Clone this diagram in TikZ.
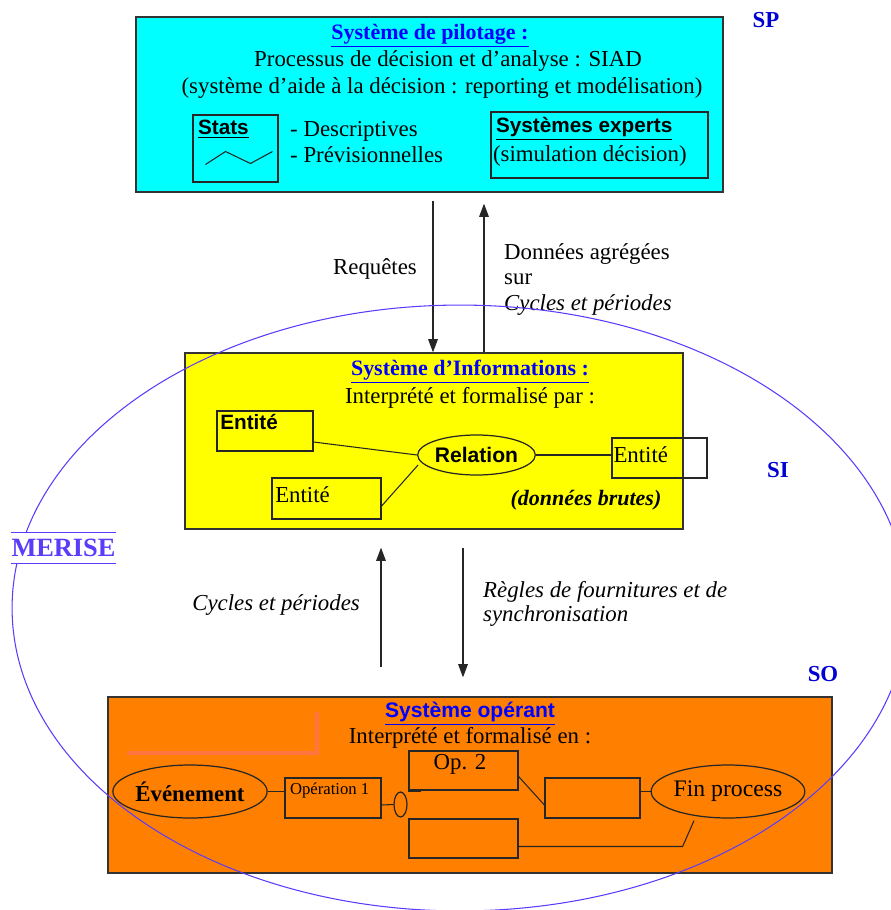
\documentclass[tikz,border=0pt]{standalone}
\usepackage{fontspec}
\setmainfont{Liberation Serif}
\setsansfont{Liberation Sans}
\usetikzlibrary{arrows.meta, positioning, shapes.geometric}

\definecolor{spcyan}{RGB}{0,255,255}
\definecolor{siyellow}{RGB}{255,255,0}
\definecolor{soorange}{RGB}{255,128,0}
\definecolor{salmonline}{RGB}{255,118,64}
\definecolor{meriseblue}{RGB}{90,60,250}
\definecolor{titleblue}{RGB}{0,0,255}
\definecolor{labelblue}{RGB}{0,0,210}

\begin{document}
\begin{tikzpicture}[x=0.02cm, y=-0.02cm, >={Triangle[length=7.5pt,width=5.5pt]},
	every node/.style={font=\fontsize{13}{15.3}\selectfont},
	sysbox/.style={draw=black!80, line width=0.8pt, inner sep=0pt},
	ent/.style={draw=black!85, line width=0.7pt, inner sep=0pt},
	ell/.style={ellipse, draw=black!85, line width=0.7pt, inner sep=0pt},
	title/.style={text=titleblue, font=\fontsize{12.5}{15}\selectfont\bfseries},
	sanstitle/.style={text=titleblue, font=\sffamily\bfseries\fontsize{12}{14}\selectfont},
	sansbold/.style={font=\sffamily\bfseries\fontsize{11.8}{14}\selectfont},
	syslabel/.style={text=labelblue, font=\fontsize{13}{15}\selectfont\bfseries},
	flow/.style={->, line width=0.6pt, black!85},
	link/.style={line width=0.6pt, black!85}]

	\useasboundingbox (0,0) rectangle (891,910);

	% pilotage
	\node[sysbox, fill=spcyan, minimum width=11.74cm, minimum height=3.5cm] (sp) at (429.5,104.5) {};
	\node[title] (sptitle) at (430,36) {\underline{Système de pilotage :}};
	\node (spline1) at (448,61) {Processus de décision et d'analyse : SIAD};
	\node (spline2) at (442,88) {(système d'aide à la décision : reporting et modélisation)};
	\node[ent, minimum width=1.7cm, minimum height=1.34cm] (stats) at (235.5,148.5) {};
	\node[sansbold, anchor=north west, inner sep=3pt] (statstitle) at (stats.north west) {\underline{Stats}};
	\draw[link] ([shift={(-30,16)}]stats.center) -- ++(20,-13) -- ++(25,12) -- ++(22,-12);
	\node[anchor=west, align=left] (statslist) at (284,142) {- Descriptives\\- Prévisionnelles};
	\node[ent, minimum width=4.34cm, minimum height=1.32cm] (experts) at (599.5,145) {};
	\node[sansbold, anchor=north west, inner sep=3pt] (expertstitle) at (experts.north west) {\underline{Systèmes experts}};
	\node[anchor=west, inner sep=1pt] (expertstext) at (491,156) {(simulation décision)};
	\node[syslabel] (splabel) at (766,20) {SP};

	% informations
	\node[sysbox, fill=siyellow, minimum width=9.96cm, minimum height=3.52cm] (si) at (434,441) {};
	\node[title] (sititle) at (470,372) {\underline{Système d'Informations :}};
	\node (siline) at (470,398) {Interprété et formalisé par :};
	\node[ent, minimum width=1.92cm, minimum height=0.8cm] (ent1) at (265,431) {};
	\node[sansbold, anchor=north west, inner sep=2pt] (ent1text) at (ent1.north west) {Entité};
	\node[ent, minimum width=2.18cm, minimum height=0.82cm] (ent2) at (326.5,498.5) {};
	\node[anchor=west, inner sep=2pt] (ent2text) at ([yshift=2pt]ent2.west) {Entité};
	\node[ell, minimum width=2.14cm, minimum height=0.8cm, font=\sffamily\bfseries\fontsize{12}{14}\selectfont] (rel) at (476.5,455) {Relation};
	\node[ent, minimum width=1.9cm, minimum height=0.8cm] (ent3) at (659.5,458) {};
	\node[anchor=west, inner sep=1pt] (ent3text) at ([yshift=2pt]ent3.west) {Entité};
	\draw[link] ([shift={(0,11)}]ent1.east) -- (rel.west);
	\draw[link] ([shift={(0,7.5)}]ent2.east) -- ([shift={(1,10)}]rel.west);
	\draw[link] (rel.east) -- (ent3.west |- rel.east);
	\node[font=\bfseries\itshape\fontsize{12.5}{15}\selectfont] (brutes) at (586,500) {(données brutes)};
	\node[syslabel] (silabel) at (778,470) {SI};

	% flux pilotage / informations
	\draw[flow] ([shift={(3.5,8)}]sp.south) -- ([shift={(3.5,0)}]sp.south |- si.north);
	\draw[flow] ([shift={(54.5,0)}]sp.south |- si.north) -- ([shift={(54.5,11)}]sp.south);
	\node (requetes) at (375,269) {Requêtes};
	\node[anchor=north west, align=left, font=\fontsize{13}{14.5}\selectfont] (agregees) at (498,237) {Données agrégées\\sur\\\textit{Cycles et périodes}};

	% operant
	\node[sysbox, fill=soorange, minimum width=14.48cm, minimum height=3.52cm] (so) at (470,785) {};
	\draw[salmonline, line width=2.3pt] (127,753) -- (317,753) -- (317,712);
	\node[sanstitle] (sotitle) at (470,714) {\underline{Système opérant}};
	\node (soline) at (470,738) {Interprété et formalisé en :};
	\node[ell, minimum width=2.68cm, minimum height=1.06cm, font=\bfseries\fontsize{13}{15}\selectfont] (evt) at (190,791.5) {Événement};
	\node[ent, minimum width=1.92cm, minimum height=0.8cm] (op1) at (333,798) {};
	\node[anchor=north west, inner sep=3pt, font=\fontsize{9.5}{11}\selectfont] (op1text) at (op1.north west) {Opération 1};
	\node[ell, minimum width=0.26cm, minimum height=0.5cm] (junc) at (400.5,804.5) {};
	\node[ent, minimum width=2.18cm, minimum height=0.78cm] (op2) at (463.5,770.5) {};
	\node[anchor=north, inner sep=2pt] (op2text) at ([xshift=-2pt]op2.north) {Op. 2};
	\node[ent, minimum width=1.9cm, minimum height=0.8cm] (op3) at (592.5,798) {};
	\node[ent, minimum width=2.18cm, minimum height=0.78cm] (op4) at (463.5,838.5) {};
	\node[ell, minimum width=3cm, minimum height=1.06cm, font=\fontsize{13.5}{15}\selectfont] (fin) at (728,791.5) {Fin process};
	\draw[link] (evt.east) -- (op1.west |- evt.east);
	\draw[link] ([shift={(0,7)}]op1.east) -- (junc.west);
	\draw[line width=1.2pt, black!85] (op2.south west) -- ++(13,0);
	\draw[link] ([shift={(0,6)}]op2.east) -- ([shift={(0,7)}]op3.west);
	\draw[link] (fin.west) -- (fin.west -| op3.east);
	\draw[link] ([shift={(0,8)}]op4.east) -- ++(164,0) -- ([shift={(-34,2)}]fin.south);
	\node[syslabel] (solabel) at (823,674) {SO};

	% flux informations / operant
	\draw[flow] ([shift={(-89,-29)}]so.north) -- ([shift={(-53,18)}]si.south);
	\draw[flow] ([shift={(29,18)}]si.south) -- ([shift={(-7,-19)}]so.north);
	\node[anchor=east, font=\itshape\fontsize{13}{15}\selectfont] (cycles) at (366,605) {Cycles et périodes};
	\node[anchor=west, align=left, font=\itshape\fontsize{13}{13.2}\selectfont] (regles) at (477,604) {Règles de fournitures et de\\synchronisation};

	% merise
	\draw[meriseblue, line width=0.6pt] (460,608) ellipse [x radius=8.96cm, y radius=6.06cm];
	\node[fill=white, inner sep=0pt, minimum width=2cm, minimum height=0.62cm, text=meriseblue, font=\bfseries\fontsize{15}{17}\selectfont] (merise) at (63.5,548) {MERISE};
	\draw[meriseblue, line width=0.6pt] (merise.north west) -- (merise.north east);
	\draw[meriseblue, line width=0.6pt] (merise.south west) -- (merise.south east);
\end{tikzpicture}
\end{document}
